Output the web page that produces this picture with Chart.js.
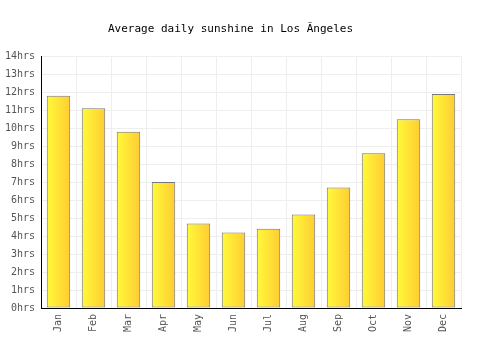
<!DOCTYPE html>
<html>
<head>
<meta charset="utf-8">
<script src="https://cdn.jsdelivr.net/npm/chart.js@4"></script>
<style>
  html, body { margin: 0; padding: 0; background: #fff; }
  #wrap { width: 500px; height: 350px; }
</style>
</head>
<body>
<div id="wrap"><canvas id="sunChart"></canvas></div>
<script>
var months = ['Jan', 'Feb', 'Mar', 'Apr', 'May', 'Jun', 'Jul', 'Aug', 'Sep', 'Oct', 'Nov', 'Dec'];
var sunHours = [11.8, 11.1, 9.8, 7.0, 4.7, 4.2, 4.4, 5.2, 6.7, 8.6, 10.5, 11.9];
var titleText = 'Average daily sunshine in Los Ăngeles';

var barPct = 0.67;
var monoFont = "'DejaVu Sans Mono', monospace";

function barGradient(context) {
	var chart = context.chart;
	var xScale = chart.scales.x;
	if (!xScale || context.dataIndex === undefined) {
		return '#ffe633';
	}
	var cx = xScale.getPixelForValue(context.dataIndex);
	var w = (xScale.width / months.length) * barPct;
	if (!isFinite(cx) || !isFinite(w) || w <= 0) {
		return '#ffe633';
	}
	var g = chart.ctx.createLinearGradient(cx - w / 2, 0, cx + w / 2, 0);
	g.addColorStop(0, '#fffa3a');
	g.addColorStop(1, '#ffcc33');
	return g;
}

var chartConfig = {
	type: 'bar',
	data: {
		labels: months,
		datasets: [{
			data: sunHours,
			backgroundColor: barGradient,
			borderColor: '#777777',
			borderWidth: 1,
			borderSkipped: false,
			barPercentage: barPct,
			categoryPercentage: 1
		}]
	},
	options: {
		maintainAspectRatio: false,
		animation: false,
		layout: {
			padding: { left: 0, right: 39, top: 0, bottom: 0 }
		},
		plugins: {
			legend: { display: false },
			tooltip: { enabled: false },
			title: {
				display: true,
				text: titleText,
				color: '#000',
				font: { family: monoFont, size: 11, weight: 'normal' },
				padding: { top: 23, bottom: 20 }
			}
		},
		scales: {
			x: {
				offset: true,
				grid: {
					offset: true,
					color: '#eeeeee',
					drawTicks: false
				},
				border: { color: '#000', width: 1 },
				ticks: {
					color: '#555',
					font: { family: monoFont, size: 10 },
					minRotation: 90,
					maxRotation: 90,
					padding: 6
				},
				afterFit: function (scale) { scale.height = 42; }
			},
			y: {
				min: 0,
				max: 14,
				grid: {
					color: '#eeeeee',
					drawTicks: false
				},
				border: { color: '#000', width: 1 },
				ticks: {
					stepSize: 1,
					color: '#555',
					font: { family: monoFont, size: 10 },
					padding: 6,
					callback: function (v) { return v + 'hrs'; }
				},
				afterFit: function (scale) { scale.width = 41; }
			}
		}
	}
};

// eslint-disable-next-line no-undef
var chart = new Chart(document.getElementById('sunChart'), chartConfig);
</script>
</body>
</html>
